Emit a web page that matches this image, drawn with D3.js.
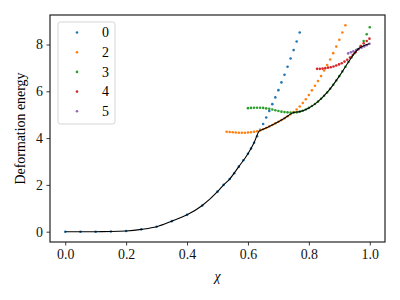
<!DOCTYPE html>
<html>
<head>
<meta charset="utf-8">
<script src="https://cdn.jsdelivr.net/npm/d3@7"></script>
<style>
  body { margin: 0; background: #fff; }
  text { font-family: "Liberation Serif", "DejaVu Serif", serif; }
</style>
</head>
<body>
<svg id="chart"></svg>
<script>
// data
const seriesNames = ["0", "2", "3", "4", "5"];
const colors = ["#1f77b4", "#ff7f0e", "#2ca02c", "#d62728", "#9467bd"];

const chi0 = [0, 0.05, 0.1, 0.15, 0.2, 0.25, 0.3, 0.35, 0.4, 0.45, 0.5, 0.52, 0.54, 0.555, 0.57, 0.585,
  0.6, 0.61, 0.62, 0.63, 0.64, 0.65, 0.66, 0.67, 0.68, 0.69, 0.7, 0.71, 0.72, 0.73, 0.74, 0.75, 0.76, 0.77];
const e0 = [0, 0, 0, 0.005, 0.03, 0.1, 0.21, 0.45, 0.72, 1.12, 1.71, 2.0, 2.25, 2.5, 2.78, 3.05,
  3.33, 3.55, 3.8, 4.08, 4.35, 4.6, 4.88, 5.16, 5.45, 5.74, 6.05, 6.38, 6.71, 7.05, 7.4, 7.76, 8.13, 8.51];

const chi2 = [0.53, 0.54, 0.55, 0.56, 0.57, 0.58, 0.59, 0.6, 0.61, 0.62, 0.63, 0.64, 0.65, 0.66, 0.67,
  0.68, 0.69, 0.7, 0.71, 0.72, 0.73, 0.74, 0.75, 0.76, 0.77, 0.78, 0.79, 0.8, 0.81, 0.82, 0.83, 0.84,
  0.85, 0.86, 0.87, 0.88, 0.89, 0.9, 0.91, 0.92];
const e2 = [4.27, 4.26, 4.25, 4.24, 4.23, 4.23, 4.23, 4.24, 4.25, 4.27, 4.29, 4.33, 4.38, 4.43, 4.5,
  4.56, 4.63, 4.7, 4.77, 4.85, 4.93, 5.02, 5.11, 5.22, 5.35, 5.5, 5.66, 5.84, 6.04, 6.24, 6.44, 6.65,
  6.89, 7.12, 7.36, 7.63, 7.91, 8.2, 8.51, 8.82];

const chi3 = [0.6, 0.61, 0.62, 0.63, 0.64, 0.65, 0.66, 0.67, 0.68, 0.69, 0.7, 0.71, 0.72, 0.73, 0.74,
  0.75, 0.76, 0.77, 0.78, 0.79, 0.8, 0.81, 0.82, 0.83, 0.84, 0.85, 0.86, 0.87, 0.88, 0.89, 0.9, 0.91,
  0.92, 0.93, 0.94, 0.95, 0.96, 0.97, 0.98, 0.99, 1.0];
const e3 = [5.28, 5.29, 5.3, 5.3, 5.3, 5.29, 5.27, 5.25, 5.22, 5.19, 5.16, 5.13, 5.11, 5.1, 5.09,
  5.09, 5.1, 5.13, 5.17, 5.22, 5.29, 5.37, 5.46, 5.56, 5.68, 5.81, 5.95, 6.11, 6.28, 6.46, 6.65, 6.85,
  7.05, 7.25, 7.45, 7.63, 7.8, 7.93, 8.15, 8.44, 8.74];

const chi4 = [0.827, 0.836, 0.845, 0.854, 0.863, 0.872, 0.881, 0.89, 0.899, 0.908, 0.917, 0.926, 0.935,
  0.944, 0.953, 0.962, 0.971, 0.98, 0.99, 0.999];
const e4 = [6.96, 6.96, 6.97, 6.99, 7.01, 7.03, 7.06, 7.1, 7.15, 7.2, 7.27, 7.35, 7.44, 7.55, 7.67,
  7.8, 7.93, 8.05, 8.15, 8.25];

const chi5 = [0.929, 0.938, 0.946, 0.955, 0.964, 0.973, 0.982, 0.99, 0.999];
const e5 = [7.62, 7.67, 7.71, 7.76, 7.81, 7.86, 7.92, 7.97, 8.03];

// black lower envelope
const envChi = [0, 0.05, 0.1, 0.15, 0.2, 0.25, 0.3, 0.35, 0.4, 0.45, 0.5, 0.52, 0.54, 0.57, 0.6, 0.62,
  0.637, 0.65, 0.67, 0.7, 0.72, 0.75, 0.77, 0.8, 0.83, 0.86, 0.9, 0.93, 0.95, 0.965, 0.98, 0.999];
const envE = [0, 0, 0, 0.005, 0.03, 0.1, 0.21, 0.45, 0.72, 1.12, 1.71, 2.0, 2.25, 2.78, 3.33, 3.8,
  4.3, 4.38, 4.5, 4.7, 4.85, 5.09, 5.13, 5.29, 5.56, 5.95, 6.65, 7.25, 7.63, 7.84, 7.95, 8.03];

const xTicks = [0, 0.2, 0.4, 0.6, 0.8, 1.0];
const yTicks = [0, 2, 4, 6, 8];

// 1. setup
const W = 400, H = 300;
const margin = { top: 15, right: 15, bottom: 58, left: 50 };
const svg = d3.select("#chart").attr("width", W).attr("height", H);
const serif = '"Liberation Serif", "DejaVu Serif", serif';
const fs = 13.9;

const x = d3.scaleLinear().domain([-0.05, 1.05]).range([margin.left, W - margin.right]);
const y = d3.scaleLinear().domain([-0.441, 9.261]).range([H - margin.bottom, margin.top]);

const series = [
  { name: seriesNames[0], xs: chi0, ys: e0 },
  { name: seriesNames[1], xs: chi2, ys: e2 },
  { name: seriesNames[2], xs: chi3, ys: e3 },
  { name: seriesNames[3], xs: chi4, ys: e4 },
  { name: seriesNames[4], xs: chi5, ys: e5 },
];

// 2. points
series.forEach((s, i) => {
  svg.append("g")
    .selectAll("circle")
    .data(s.xs.map((v, j) => [v, s.ys[j]]))
    .enter()
    .append("circle")
    .attr("cx", (d) => x(d[0]))
    .attr("cy", (d) => y(d[1]))
    .attr("r", 1.3)
    .attr("fill", colors[i]);
});

// 3. envelope line
svg.append("path")
  .datum(envChi.map((v, j) => [v, envE[j]]))
  .attr("fill", "none")
  .attr("stroke", "black")
  .attr("stroke-width", 1.1)
  .attr("d", d3.line().x((d) => x(d[0])).y((d) => y(d[1])).curve(d3.curveMonotoneX));

// 4. axes
const xAxis = svg.append("g")
  .attr("transform", `translate(0,${H - margin.bottom})`)
  .call(d3.axisBottom(x).tickValues(xTicks).tickFormat(d3.format(".1f")).tickSizeOuter(0).tickSize(3.5).tickPadding(3.5));
const yAxis = svg.append("g")
  .attr("transform", `translate(${margin.left},0)`)
  .call(d3.axisLeft(y).tickValues(yTicks).tickSizeOuter(0).tickSize(3.5).tickPadding(3.5));
[xAxis, yAxis].forEach((a) => {
  a.attr("font-family", serif).attr("font-size", fs);
  a.select(".domain").remove();
  a.selectAll("line").attr("stroke", "#222").attr("stroke-width", 0.9);
  a.selectAll("text").attr("fill", "#111");
});

// frame
svg.append("rect")
  .attr("x", margin.left)
  .attr("y", margin.top)
  .attr("width", W - margin.left - margin.right)
  .attr("height", H - margin.top - margin.bottom)
  .attr("fill", "none")
  .attr("stroke", "#222")
  .attr("stroke-width", 1.2);

// labels
svg.append("text")
  .attr("x", (margin.left + W - margin.right) / 2)
  .attr("y", 281)
  .attr("text-anchor", "middle")
  .attr("font-size", fs)
  .attr("font-style", "italic")
  .text("χ");

svg.append("text")
  .attr("transform", `rotate(-90)`)
  .attr("x", -(margin.top + H - margin.bottom) / 2)
  .attr("y", 25)
  .attr("text-anchor", "middle")
  .attr("font-size", fs)
  .text("Deformation energy");

// 5. legend
const legend = svg.append("g").attr("transform", "translate(58,22)");
legend.append("rect")
  .attr("width", 57)
  .attr("height", 102)
  .attr("rx", 2.5)
  .attr("fill", "white")
  .attr("fill-opacity", 0.8)
  .attr("stroke", "#d0d0d0")
  .attr("stroke-width", 0.9);
seriesNames.forEach((n, i) => {
  const ly = 10.5 + i * 19.7;
  legend.append("circle").attr("cx", 19).attr("cy", ly).attr("r", 1.3).attr("fill", colors[i]);
  legend.append("text")
    .attr("x", 44)
    .attr("y", ly)
    .attr("dy", "0.35em")
    .attr("font-size", fs)
    .text(n);
});
</script>
</body>
</html>
